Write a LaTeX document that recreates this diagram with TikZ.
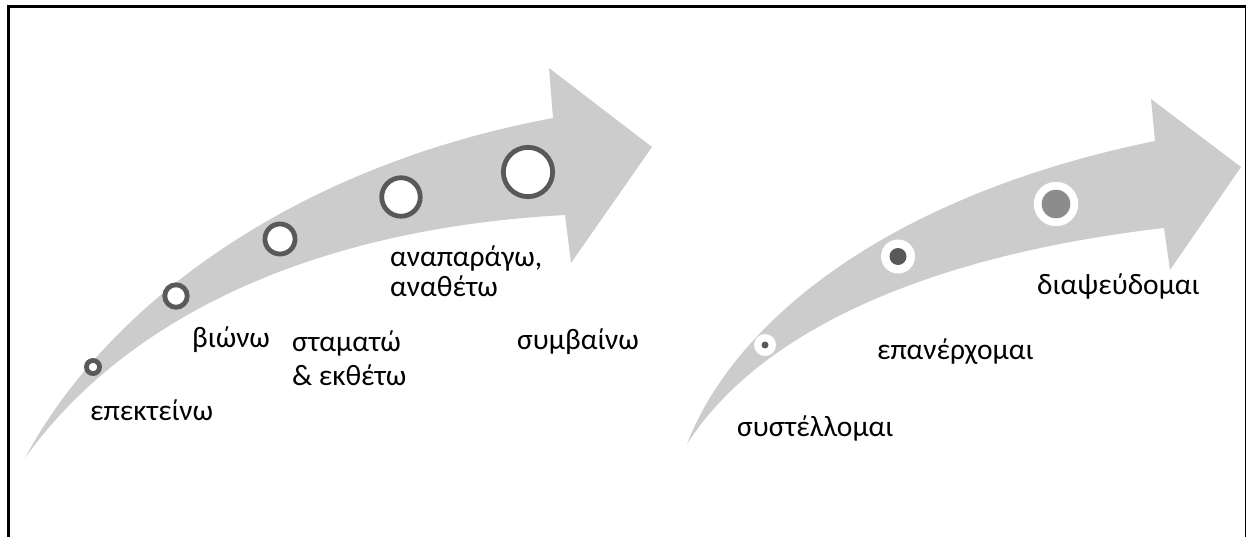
\documentclass[tikz,border=0pt]{standalone}
\usepackage{fontspec}
\setmainfont{Carlito}
\definecolor{bandgray}{HTML}{CCCCCC}
\definecolor{ringgray}{HTML}{595959}
\definecolor{dotlight}{HTML}{8C8C8C}
\begin{document}
\begin{tikzpicture}[x=1pt,y=-1pt,
  band/.style={fill=bandgray,draw=none},
  ring/.style={circle,draw=ringgray,line width=4.8pt,fill=white,inner sep=0pt},
  halo/.style={circle,fill=white,draw=none,inner sep=0pt},
  dot/.style={circle,fill=ringgray,draw=none,inner sep=0pt},
  lbl/.style={anchor=base west,inner sep=0pt,align=left,text=black,
              font=\fontsize{29.5}{34}\selectfont},
]
\useasboundingbox (0,0) rectangle (1246,536);

% open frame: left, top and right sides
\begin{scope}
  \clip (0,0) rectangle (1246,536);
  \draw[line width=3pt] (8.5,560) -- (8.5,6.5) -- (1246,6.5) -- (1246,560);
\end{scope}

% left curved arrow
\fill[band] (25,458) .. controls (115,332) and (290,230) .. (565,215)
  -- (571,263) -- (652,147) -- (549,68) -- (553,118)
  .. controls (300,165) and (110,300) .. (25,458) -- cycle;

% right curved arrow
\fill[band] (687,444) .. controls (760,330) and (930,255) .. (1164,228)
  -- (1170,270) -- (1241,167) -- (1151,99) -- (1155,141)
  .. controls (890,195) and (735,320) .. (687,444) -- cycle;

% growing rings on the left arrow
\node[ring,minimum size=13.1pt] (a1) at (93,367) {};
\node[ring,minimum size=22.5pt] (a2) at (176,296) {};
\node[ring,minimum size=30.1pt] (a3) at (280,239) {};
\node[ring,minimum size=38.5pt] (a4) at (401,197) {};
\node[ring,minimum size=49.3pt] (a5) at (528,172) {};

% filled markers on the right arrow
\node[halo,minimum size=22pt] (b1) at (765,345) {};
\node[dot,minimum size=7pt] (b1d) at (b1) {};
\node[halo,minimum size=34pt] (b2) at (898,256.5) {};
\node[dot,minimum size=17pt] (b2d) at (b2) {};
\node[halo,minimum size=44.4pt] (b3) at (1056,204) {};
\node[dot,fill=dotlight,minimum size=28.6pt] (b3d) at (b3) {};

% labels (multi-line labels are anchored on their last line)
\node[lbl] (t1) at (90,420) {επεκτείνω};
\node[lbl] (t2) at (192,347) {βιώνω};
\node[lbl] (t3) at (292,385) {σταματώ\\\& εκθέτω};
\node[lbl] (t4) at (390,296) {αναπαράγω,\\[-4pt]αναθέτω};
\node[lbl] (t5) at (517,349) {συμβαίνω};
\node[lbl] (u1) at (737,436) {συστέλλομαι};
\node[lbl] (u2) at (877,359) {επανέρχομαι};
\node[lbl] (u3) at (1037,294) {διαψεύδομαι};
\end{tikzpicture}
\end{document}
